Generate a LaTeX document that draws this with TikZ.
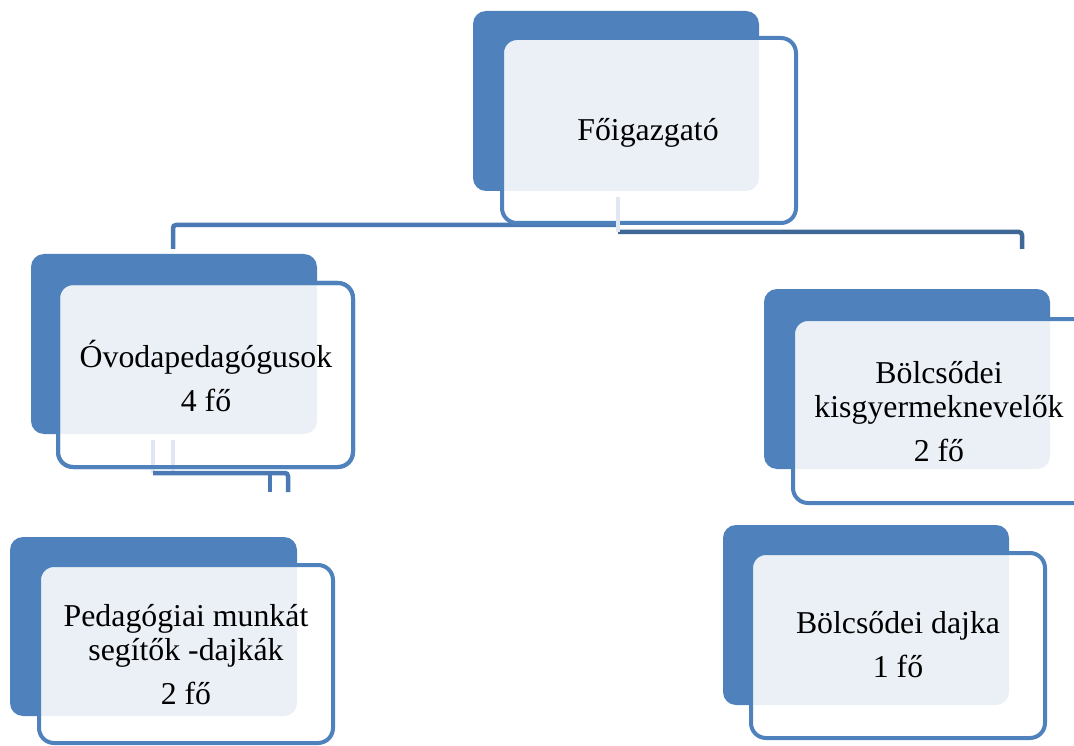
\documentclass[tikz,border=0pt]{standalone}
\usepackage{fontspec}
\setmainfont{Liberation Serif}
\definecolor{accent}{HTML}{4F81BD}
\definecolor{lightfill}{HTML}{EBF0F7}
\definecolor{stubcol}{HTML}{DFE7F3}
\definecolor{connA}{HTML}{4A79B3}
\definecolor{connB}{HTML}{3F6897}
\tikzset{
  backbox/.style={fill=accent, rounded corners=13pt},
  frontbox/.style={fill=white, draw=accent, line width=4pt, rounded corners=15pt},
  frontline/.style={draw=accent, line width=4pt, rounded corners=15pt},
  lightbox/.style={fill=lightfill, rounded corners=13pt},
  lbl/.style={align=center, inner sep=0pt, font=\fontsize{31.8}{34}\selectfont},
  stub/.style={draw=stubcol, line width=4.5pt},
  connl/.style={draw=connA, line width=4.5pt, rounded corners=3pt},
  connr/.style={draw=connB, line width=4.5pt, rounded corners=3pt},
}
% #1,#2 back top-left; #3,#4 back bottom-right; #5,#6 front top-left; #7,#8 front bottom-right
\newcommand\orgbox[8]{%
  \fill[backbox] (#1,#2) rectangle (#3,#4);
  \fill[white, rounded corners=15pt] (#5,#6) rectangle (#7,#8);
  \begin{scope}
    \clip[rounded corners=15pt] (#5,#6) rectangle (#7,#8);
    \fill[lightbox] (#1,#2) rectangle (#3,#4);
  \end{scope}
  \draw[frontline] (#5,#6) rectangle (#7,#8);
}
\begin{document}
\begin{tikzpicture}[x=1pt,y=-1pt]
\useasboundingbox (0,0) rectangle (1074,746);

% connectors from the top box
\coordinate (tA) at (618,225);
\coordinate (tB) at (618,232);
\coordinate (lEnd) at (173,249);
\coordinate (rEnd) at (1022,249);
\draw[connl] (lEnd) |- (tA);
\draw[connr] (tB) -| (rEnd);

% boxes
\orgbox{473}{11}{759}{191}{502}{38}{796}{223}
\orgbox{31}{254}{317}{434}{58}{283}{353}{467}
\orgbox{764}{289}{1050}{469}{793}{319}{1090}{503}
\orgbox{10}{537}{297}{716}{39}{565}{333}{743}
\orgbox{723}{525}{1009}{705}{751}{553}{1045}{738}

% stubs and sub-connector of the left box
\coordinate (s0) at (618,197);
\draw[stub] (s0) -- (tB);
\coordinate (s1) at (153,440);
\coordinate (s1b) at (153,473);
\coordinate (s2) at (173,440);
\coordinate (s2b) at (173,471);
\coordinate (d1) at (288,492);
\coordinate (d2top) at (270,473);
\coordinate (d2) at (270,492);
\draw[stub] (s1) -- (s1b);
\draw[stub] (s2) -- (s2b);
\draw[connl] (s1b) -| (d1);
\draw[connl] (d2top) -- (d2);
\draw[frontline] (58,283) rectangle (353,467);

% labels
\node[lbl] (fo) at (648,133) {Főigazgató};
\node[lbl] (ovoda) at (206,376) {Óvodapedagógusok\\[10pt]4 fő};
\node[lbl] (bolcs) at (939,412) {Bölcsődei\\kisgyermeknevelők\\[10pt]2 fő};
\node[lbl] (dajkak) at (186,655) {Pedagógiai munkát\\segítők -dajkák\\[10pt]2 fő};
\node[lbl] (bdajka) at (898,645) {Bölcsődei dajka\\[10pt]1 fő};
\end{tikzpicture}
\end{document}
